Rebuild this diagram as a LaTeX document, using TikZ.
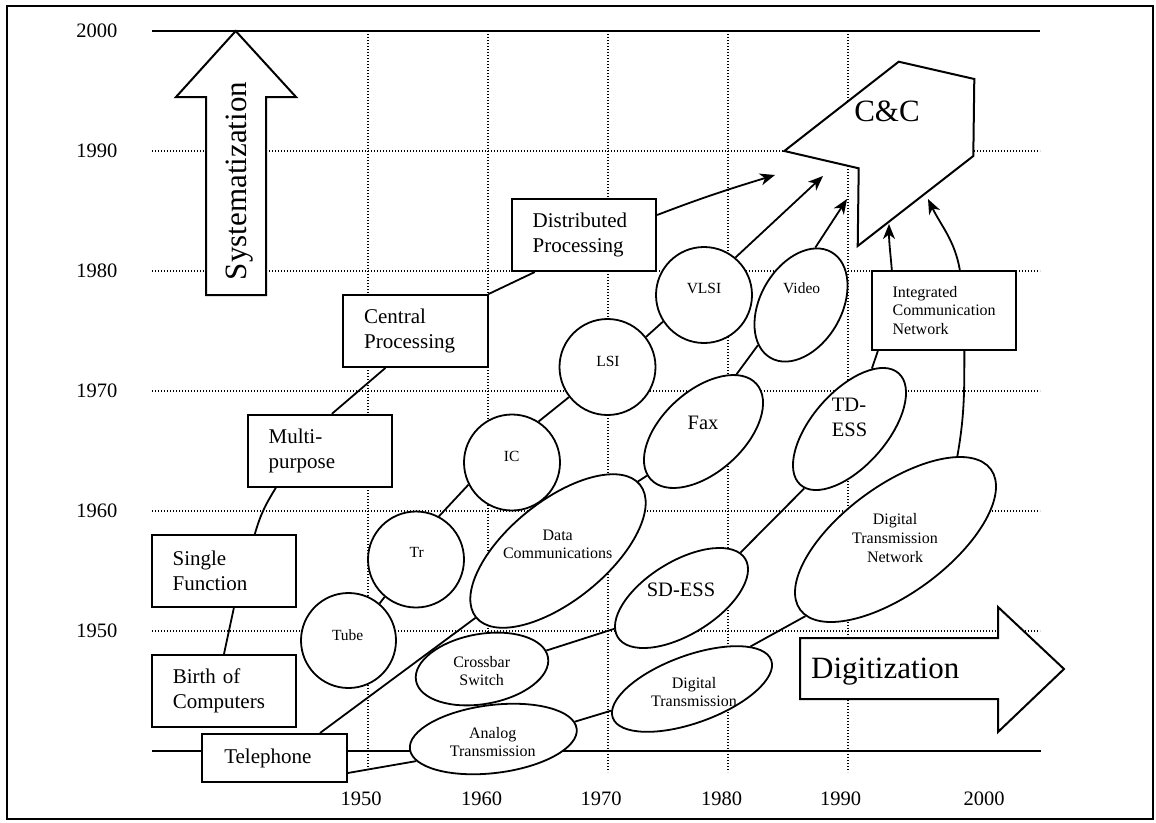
\documentclass[tikz,border=0pt]{standalone}
\usepackage{fontspec}
\setmainfont{Liberation Serif}
\usetikzlibrary{shapes.geometric,arrows.meta}
\newcommand\fntS{\fontsize{15.5}{18}\selectfont}
\newcommand\fntM{\fontsize{16}{18.5}\selectfont}
\newcommand\fntY{\fontsize{20.5}{24}\selectfont}
\newcommand\fntB{\fontsize{21}{24.5}\selectfont}
\newcommand\fntL{\fontsize{20.5}{25}\selectfont}
\newcommand\fntXL{\fontsize{31}{36}\selectfont}
\begin{document}
\begin{tikzpicture}[x=1pt,y=-1pt,
  gridline/.style={line width=1.2pt, dash pattern=on 1.2pt off 1.8pt},
  axisline/.style={line width=2pt},
  shapeline/.style={line width=2pt, fill=white, line join=miter},
  box/.style={draw, line width=2pt, fill=white, text width=102.5pt,
    inner xsep=21pt, inner ysep=0pt, align=left, font=\fntB},
  ell/.style={draw, ellipse, line width=1.8pt, fill=white, inner sep=0pt},
  circ/.style={draw, circle, line width=1.8pt, fill=white, inner sep=0pt, minimum size=96pt},
  lab/.style={inner sep=0pt, align=center, font=\fntM},
  yearlab/.style={inner sep=0pt, font=\fntY},
  bigtext/.style={inner sep=0pt, font=\fntXL},
  conn/.style={line width=1.8pt},
  arr/.style={conn, -{Stealth[length=15pt,width=12pt,inset=4.5pt]}}
]
\fill[white] (0,0) rectangle (1156,822);
\useasboundingbox (0,0) rectangle (1156,822);
\draw[line width=2pt] (7,6) rectangle (1153,819);

% grid of decades
\foreach \y in {151,271,391,511,631} \draw[gridline] (152,\y) -- (1040,\y);
\foreach \x in {368,488,608,728,848} \draw[gridline] (\x,31) -- (\x,772);
\draw[axisline] (152,31) -- (1040,31);
\draw[axisline] (152,751) -- (1041,751);

% year labels
\foreach \yr/\y in {2000/31,1990/151,1980/271,1970/391,1960/511,1950/631}
  \node[yearlab, anchor=base east] (yl\yr) at (117.5,\y+6.5) {\yr};
\foreach \yr/\x in {1950/361,1960/481.5,1970/601,1980/721.5,1990/840.5,2000/984}
  \node[yearlab, anchor=base] (xl\yr) at (\x,805) {\yr};

% big arrows and C&C
\draw[shapeline] (235.7,31) -- (296,97) -- (266,97) -- (266,295) -- (206,295) -- (206,97) -- (176,97) -- cycle;
\node[bigtext, rotate=90, anchor=base] (sys) at (246,181) {Systematization};
\draw[shapeline] (800,638) -- (998,638) -- (998,607) -- (1064,669) -- (998,732) -- (998,699) -- (800,699) -- cycle;
\node[bigtext, anchor=base west] (dig) at (811,678) {Digitization};
\draw[shapeline] (898.7,61.7) -- (974.3,79) -- (973.3,156) -- (857.7,246) -- (858.7,168.3) -- (784.3,151) -- cycle;
\node[bigtext, anchor=base] (cc) at (887,121) {C\&C};
\coordinate (cc1) at (775,175);
\coordinate (cc2) at (823,176);
\coordinate (cc3) at (847,199);
\coordinate (cc4) at (889,224);
\coordinate (cc5) at (928,199);

% computer boxes
\node[box, minimum height=72pt] (dist) at (583.85,235) {Distributed\\Processing};
\node[box, minimum height=72pt] (central) at (415.35,331) {Central\\Processing};
\node[box, minimum height=72pt] (multi) at (319.85,450.85) {Multi-\\purpose};
\node[box, minimum height=72pt] (single) at (223.85,571) {Single\\Function};
\node[box, minimum height=72pt] (birth) at (224,690.85) {Birth of\\Computers};
\node[box, minimum height=48pt, inner xsep=22pt, text width=100.5pt] (tel) at (274.5,758) {Telephone};
\node[box, minimum height=79pt, font=\fntM] (integ) at (943.85,310.5) {Integrated\\Communication\\Network};

% devices
\node[circ, minimum size=95pt] (tube) at (348.5,640.5) {};
\node[circ] (tr) at (416,559.5) {};
\node[circ] (ic) at (512,462.5) {};
\node[circ] (lsi) at (607.5,367) {};
\node[circ] (vlsi) at (704,295) {};
\node[lab, font=\fntS] (tubel) at (347.7,635) {Tube};
\node[lab, font=\fntS] (trl) at (416.7,552.7) {Tr};
\node[lab, font=\fntS] (icl) at (511.7,456.7) {IC};
\node[lab, font=\fntS] (lsil) at (608,361) {LSI};
\node[lab, font=\fntS] (vlsil) at (704,288) {VLSI};

% services and switching
\node[ell, minimum width=122pt, minimum height=81.2pt, rotate=60] (video) at (801,305) {};
\node[ell, minimum width=142.4pt, minimum height=81.6pt, rotate=42] (fax) at (703.5,431.5) {};
\node[ell, minimum width=210.8pt, minimum height=99.4pt, rotate=39] (dc) at (558,551) {};
\node[ell, minimum width=134pt, minimum height=70pt, rotate=10] (cb) at (482,669) {};
\node[ell, minimum width=168pt, minimum height=68pt, rotate=7] (an) at (493.3,739) {};
\node[ell, minimum width=149.6pt, minimum height=73pt, rotate=31.6] (sd) at (681.5,598) {};
\node[ell, minimum width=148.6pt, minimum height=74.8pt, rotate=48.7] (td) at (849.5,429) {};
\node[ell, minimum width=236.8pt, minimum height=107.4pt, rotate=36.4] (dtn) at (895.5,539.5) {};
\node[ell, minimum width=168.6pt, minimum height=67.4pt, rotate=20] (dt) at (692,689) {};
\node[lab, font=\fntS] (videol) at (801.7,288) {Video};
\node[lab, font=\fntL] (faxl) at (703,423) {Fax};
\node[lab] (dcl) at (557.7,544.5) {Data\\Communications};
\node[lab, font=\fontsize{16}{17.5}\selectfont] (cbl) at (481.7,671) {Crossbar\\Switch};
\node[lab, font=\fontsize{16}{18.7}\selectfont] (anl) at (492.7,742) {Analog\\Transmission};
\node[lab, font=\fntL] (sdl) at (681,590) {SD-ESS};
\node[lab, font=\fntL, align=left] (tdl) at (849.6,417) {TD-\\ESS};
\node[lab, font=\fontsize{16}{19}\selectfont] (dtnl) at (895,538) {Digital\\Transmission\\Network};
\node[lab] (dtl) at (694,692) {Digital\\Transmission};

% computer line
\draw[conn] (birth.north) -- ([xshift=10pt]single.south);
\draw[conn] ([xshift=31pt]single.north) to[out=74,in=238] ([xshift=-44pt]multi.south);
\draw[conn] ([xshift=12pt]multi.north) -- ([xshift=-30pt]central.south);
\draw[conn] (central.north east) -- ([xshift=-49pt]dist.south);
\draw[arr] ([yshift=20pt]dist.east) to[out=21,in=197] (cc1);

% device line
\draw[conn] (tube.50) -- (tr.230);
\draw[conn] (tr.62) -- (ic.207);
\draw[conn] (ic.57) -- (lsi.218);
\draw[conn] (lsi.38) -- (vlsi.213);
\draw[arr] (vlsi.50) -- (cc2);

% terminal line
\draw[conn] ([xshift=45.5pt]tel.north) -- (dc.180);
\draw[conn] (dc.2) -- (fax.176);
\draw[conn] (fax.18) -- (video.163);
\draw[arr] (video.16) -- (cc3);

% switching line
\draw[conn] (cb.6) -- (sd.173);
\draw[conn] (sd.6) -- (td.184);
\draw[conn] (td.21) -- ([xshift=-66pt]integ.south);
\draw[arr] ([xshift=-52pt]integ.north) to[out=95,in=-90] (cc4);
\draw[arr] ([xshift=16pt]integ.north) to[out=100,in=-64] (cc5);

% transmission line
\draw[conn] ([yshift=-15pt]tel.east) -- (an.189);
\draw[conn] (an.5) -- (dt.175);
\draw[conn] (dt.16) -- (dtn.184);
\draw[conn] (dtn.17) to[out=80,in=-90] ([xshift=20.5pt]integ.south);
\end{tikzpicture}
\end{document}
